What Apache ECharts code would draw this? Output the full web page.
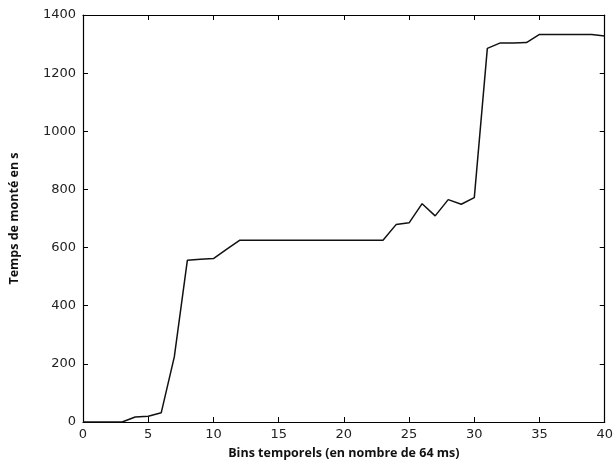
<!DOCTYPE html>
<html><head><meta charset="utf-8">
<script src="https://cdn.jsdelivr.net/npm/echarts@6/dist/echarts.min.js"></script>
<style>html,body{margin:0;padding:0;background:#fff}#c{width:616px;height:465px}</style>
</head><body><div id="c"></div>
<script>
const bins = [0,1,2,3,4,5,6,7,8,9,10,11,12,13,14,15,16,17,18,19,20,21,22,23,24,25,26,27,28,29,30,31,32,33,34,35,36,37,38,39,40];
const temps = [0,0,0,0,17,20,32,224,556,560,562,594,625,625,625,625,625,625,625,625,625,625,625,625,679,685,751,709,765,749,772,1285,1304,1304,1305,1333,1333,1333,1333,1333,1328];
const xTitle = 'Bins temporels (en nombre de 64 ms)';
const yTitle = 'Temps de monté en s';

const chart = echarts.init(document.getElementById('c'));
const tickFont = {fontFamily:'DejaVu Sans', fontSize:13, color:'#222', formatter:v=>String(v)};
const axisCommon = {
  axisLine:{show:true, onZero:false, lineStyle:{color:'#000', width:1.2}},
  axisTick:{show:true, inside:true, length:5, lineStyle:{color:'#000'}},
  splitLine:{show:false}
};
chart.setOption({
  animation:false,
  grid:{left:83, right:4, top:15, bottom:43},
  xAxis:[
    Object.assign({type:'value', min:0, max:40, interval:5, position:'bottom',
      axisLabel:Object.assign({margin:6}, tickFont),
      name:xTitle, nameLocation:'middle', nameGap:25,
      nameTextStyle:{fontFamily:'Open Sans', fontWeight:'bold', fontSize:12.5, color:'#111'}}, axisCommon),
    Object.assign({type:'value', min:0, max:40, interval:5, position:'top', axisLabel:{show:false}}, axisCommon)
  ],
  yAxis:[
    Object.assign({type:'value', min:0, max:1400, interval:200, position:'left',
      axisLabel:Object.assign({margin:7}, tickFont),
      name:yTitle, nameLocation:'middle', nameGap:62,
      nameTextStyle:{fontFamily:'Open Sans', fontWeight:'bold', fontSize:12.5, color:'#111'}}, axisCommon),
    Object.assign({type:'value', min:0, max:1400, interval:200, position:'right', axisLabel:{show:false}}, axisCommon)
  ],
  series:[{
    type:'line', data:bins.map((b,i)=>[b,temps[i]]), showSymbol:false,
    lineStyle:{color:'#111', width:1.5}, xAxisIndex:0, yAxisIndex:0
  }]
});
</script></body></html>
